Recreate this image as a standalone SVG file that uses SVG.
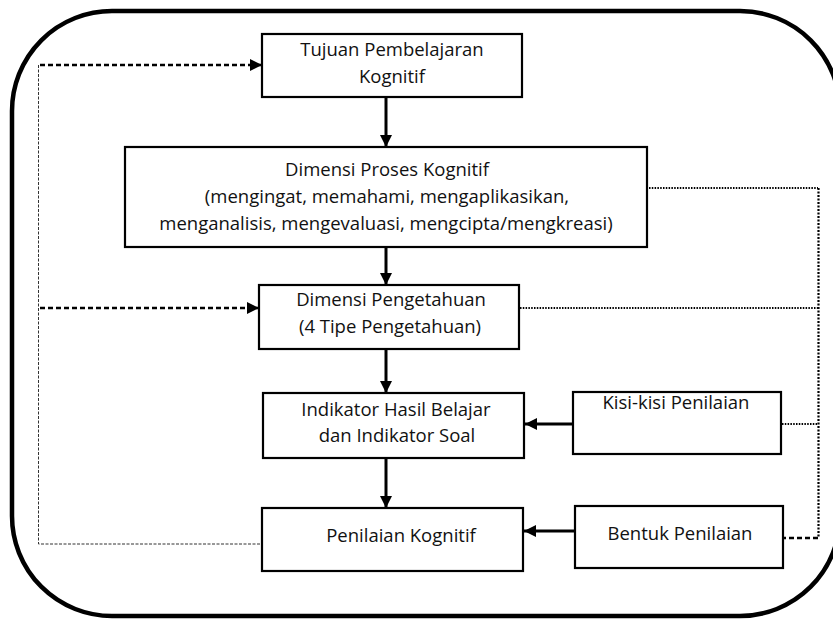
<svg xmlns="http://www.w3.org/2000/svg" width="833" height="619" viewBox="0 0 833 619">
  <style>
    .box { fill: #ffffff; stroke: #000000; stroke-width: 2.2; }
    .lbl { font-family: "Open Sans", "Noto Sans", "DejaVu Sans", sans-serif; font-size: 18.5px; fill: #111111; text-anchor: middle; }
    .flow { fill: none; stroke: #000000; stroke-width: 3; }
    .fb { fill: none; stroke: #000000; stroke-width: 2.6; stroke-dasharray: 5 3; }
    .thin { fill: none; stroke: #333333; stroke-width: 1; stroke-dasharray: 3 1.5; }
    .dot { fill: none; stroke: #000000; stroke-width: 1.8; stroke-dasharray: 1.5 1.3; }
  </style>
  <defs>
    <marker id="head" viewBox="0 0 12 12" refX="12" refY="6" markerWidth="12" markerHeight="12" markerUnits="userSpaceOnUse" orient="auto">
      <path d="M0,0 L12,6 L0,12 Z" fill="#000000"/>
    </marker>
  </defs>

  <!-- outer rounded frame -->
  <rect x="12" y="11" width="828" height="605" rx="100" ry="100" fill="none" stroke="#000000" stroke-width="4.5"/>

  <g id="connectors">
    <!-- main downward flow -->
    <line class="flow" x1="386" y1="97" x2="386" y2="147" marker-end="url(#head)"/>
    <line class="flow" x1="386" y1="247" x2="386" y2="285" marker-end="url(#head)"/>
    <line class="flow" x1="386" y1="349" x2="386" y2="393" marker-end="url(#head)"/>
    <line class="flow" x1="386" y1="458" x2="386" y2="508" marker-end="url(#head)"/>
    <!-- side inputs -->
    <line class="flow" x1="573" y1="424" x2="525" y2="424" marker-end="url(#head)"/>
    <line class="flow" x1="575" y1="531" x2="524" y2="531" marker-end="url(#head)"/>
    <!-- left feedback loop -->
    <line class="fb" x1="40" y1="65" x2="262" y2="65" marker-end="url(#head)"/>
    <line class="fb" x1="40" y1="308" x2="259" y2="308" marker-end="url(#head)"/>
    <polyline class="thin" points="38.5,65 38.5,544 265,544"/>
    <!-- right dotted loop -->
    <line class="dot" x1="649" y1="188" x2="818" y2="188"/>
    <line class="dot" x1="520" y1="308" x2="818" y2="308"/>
    <line class="dot" x1="782" y1="424" x2="818" y2="424"/>
    <line x1="818.5" y1="188" x2="818.5" y2="538" fill="none" stroke="#000000" stroke-width="2.2" stroke-dasharray="2 1.5"/>
    <line x1="818" y1="538" x2="784" y2="538" fill="none" stroke="#000000" stroke-width="2.5" stroke-dasharray="5 3"/>
  </g>

  <g id="tujuan">
    <rect class="box" x="262" y="34" width="260" height="63"/>
    <text class="lbl" x="392" y="56">Tujuan Pembelajaran</text>
    <text class="lbl" x="392" y="83">Kognitif</text>
  </g>

  <g id="proses">
    <rect class="box" x="125" y="147" width="522" height="100"/>
    <text class="lbl" x="387" y="176">Dimensi Proses Kognitif</text>
    <text class="lbl" x="387" y="203">(mengingat, memahami, mengaplikasikan,</text>
    <text class="lbl" x="386" y="230">menganalisis, mengevaluasi, mengcipta/mengkreasi)</text>
  </g>

  <g id="pengetahuan">
    <rect class="box" x="259" y="285" width="260" height="64"/>
    <text class="lbl" x="391" y="306">Dimensi Pengetahuan</text>
    <text class="lbl" x="390" y="333">(4 Tipe Pengetahuan)</text>
  </g>

  <g id="indikator">
    <rect class="box" x="263" y="393" width="261" height="65"/>
    <text class="lbl" x="396" y="416">Indikator Hasil Belajar</text>
    <text class="lbl" x="397" y="442">dan Indikator Soal</text>
  </g>

  <g id="kisi">
    <rect class="box" x="573" y="392" width="208" height="62"/>
    <text class="lbl" x="676" y="409">Kisi-kisi Penilaian</text>
  </g>

  <g id="penilaian">
    <rect class="box" x="262" y="508" width="261" height="63"/>
    <text class="lbl" x="401" y="542">Penilaian Kognitif</text>
  </g>

  <g id="bentuk">
    <rect class="box" x="575" y="506" width="208" height="62"/>
    <text class="lbl" x="680" y="540">Bentuk Penilaian</text>
  </g>
</svg>
